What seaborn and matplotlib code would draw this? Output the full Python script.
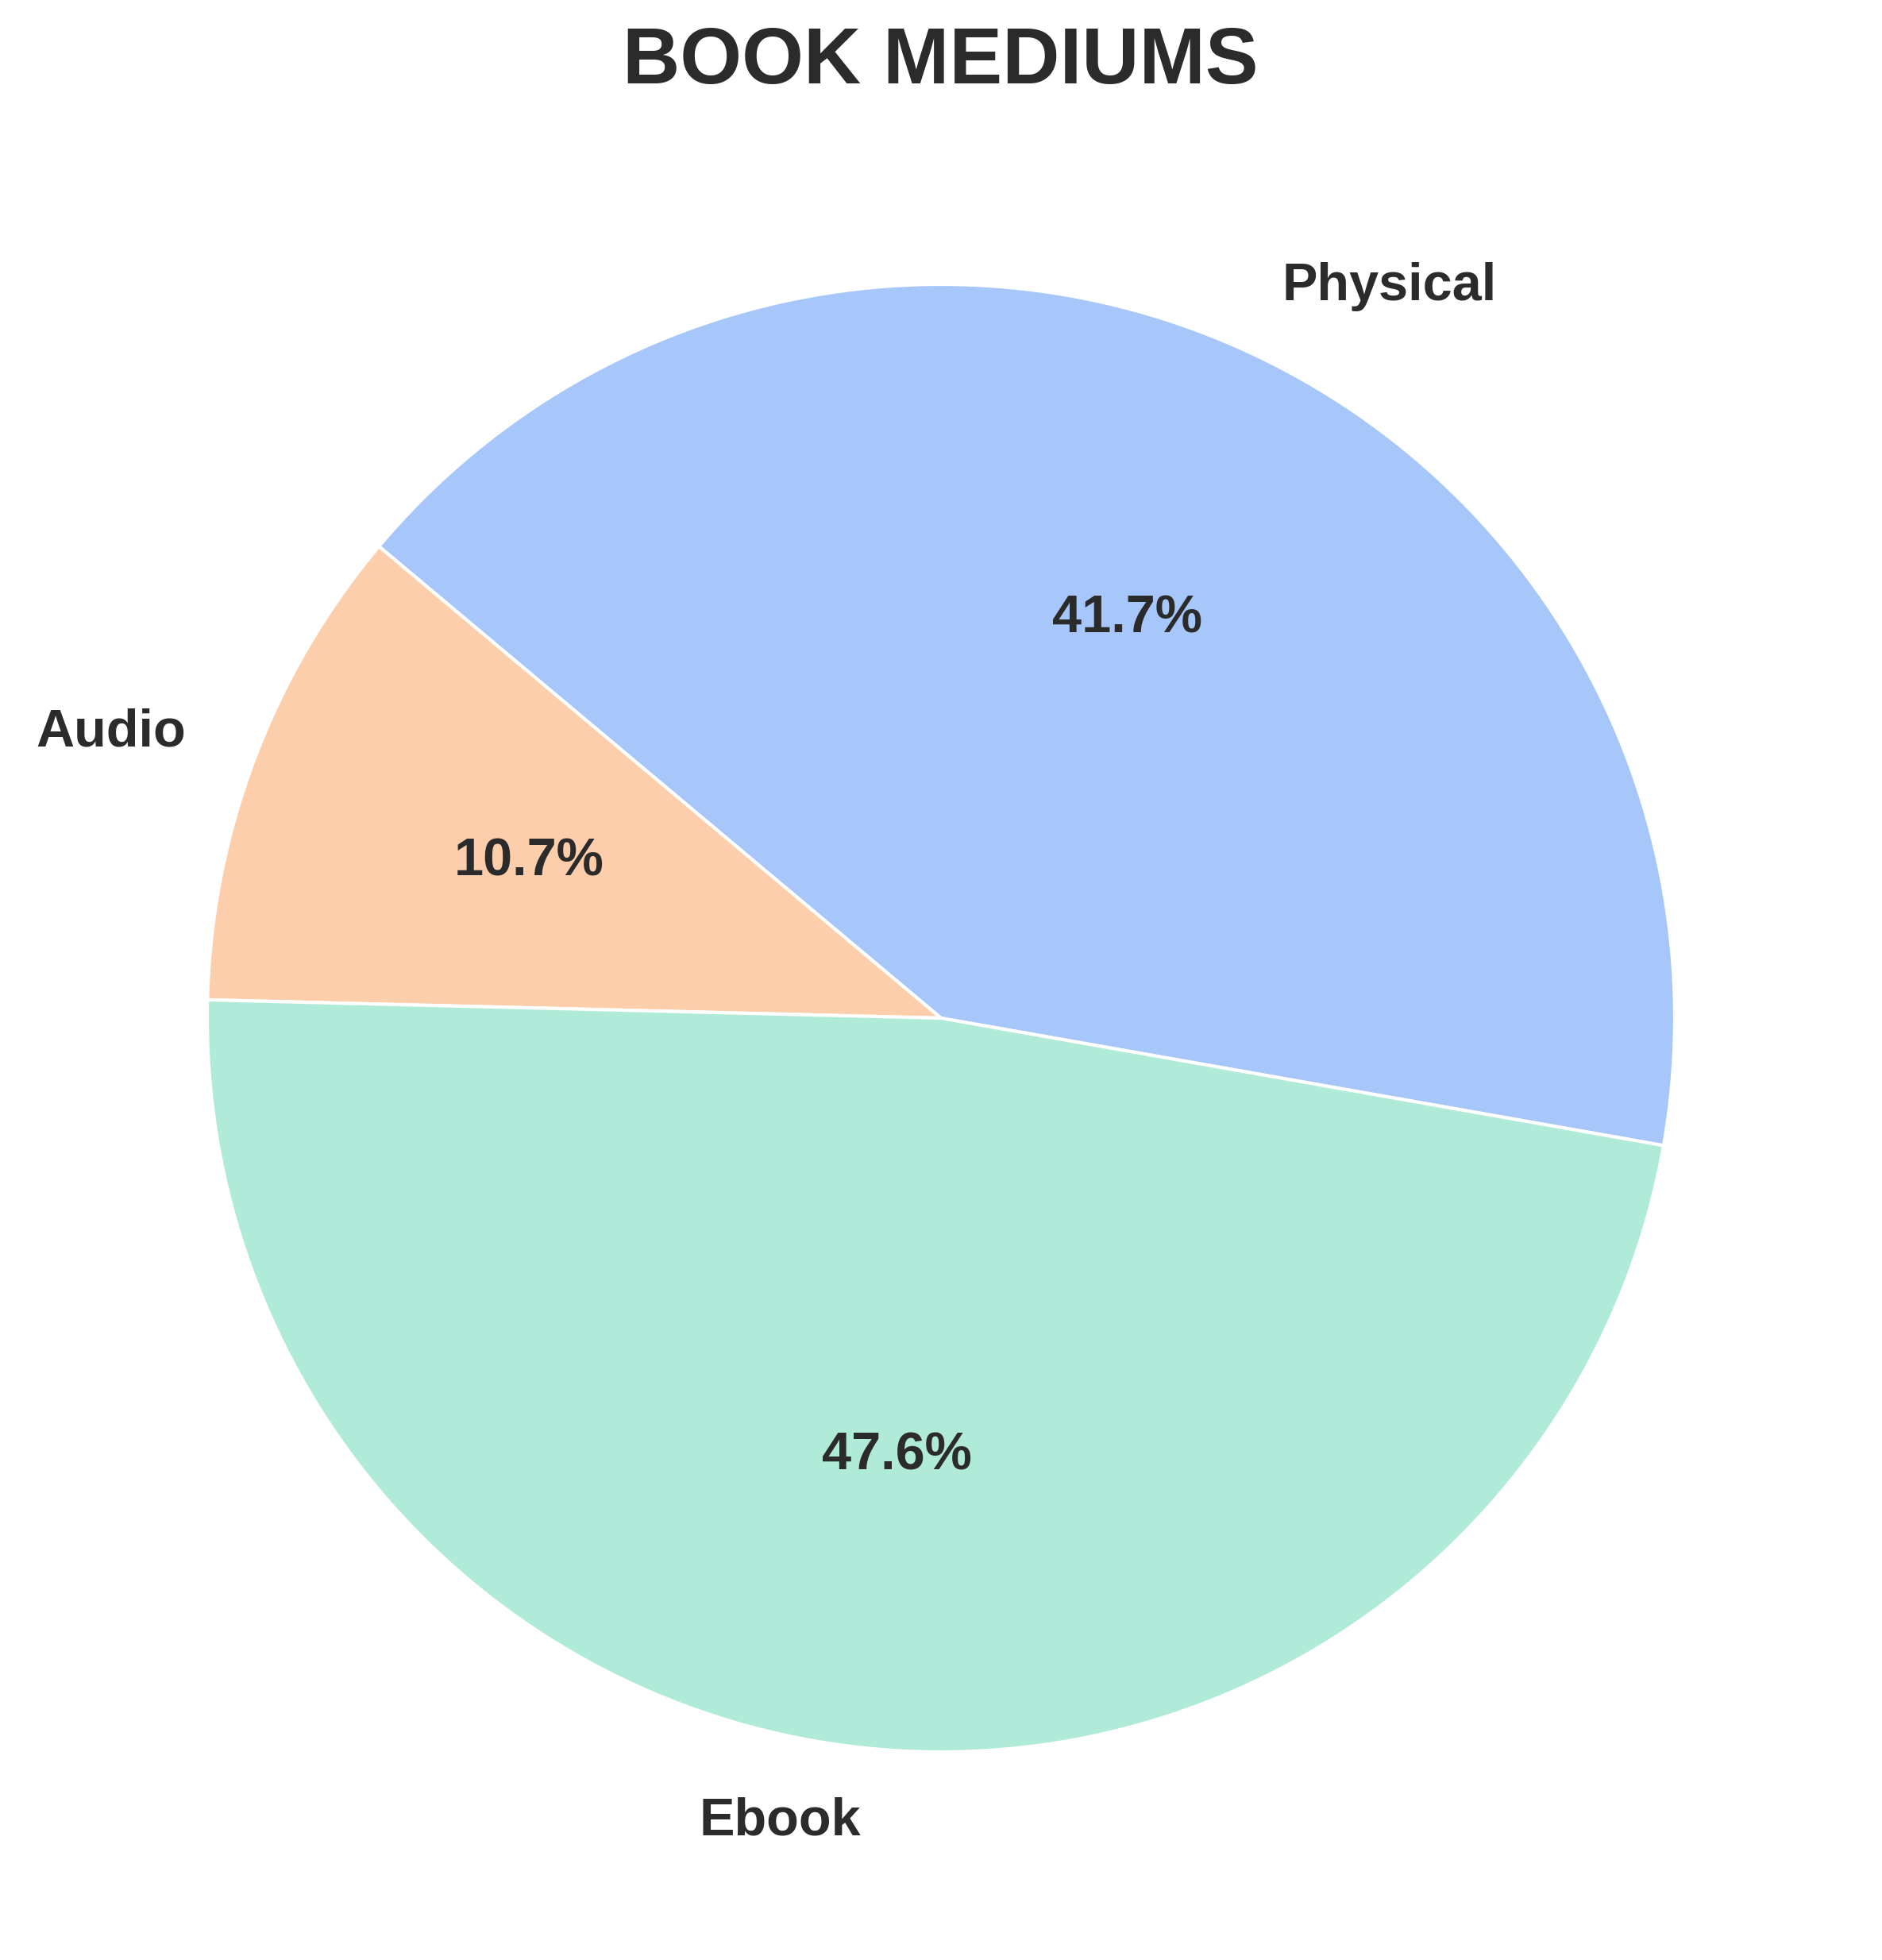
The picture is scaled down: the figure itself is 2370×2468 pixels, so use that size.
import matplotlib
matplotlib.use("Agg")
import matplotlib.pyplot as plt
import seaborn as sns

# Data
mediums = ["Physical", "Audio", "Ebook"]
counts = [35, 9, 40]
colors = ["#a7c7fa", "#fdceab", "#b0ead8"]
title = "BOOK MEDIUMS"

sns.set_theme(style="white")
plt.rcParams["font.family"] = ["Liberation Sans", "DejaVu Sans"]
text_color = "#2b2b2b"

W, H, DPI = 2370, 2468, 300
fig = plt.figure(figsize=(W / DPI, H / DPI), dpi=DPI)

R = 924.0       # pie radius in px
cx, cy = 1185.0, 1282.0  # center from top-left in px
ax = fig.add_axes([0, 0, 1, 1])
ax.axis("off")

wedges, texts, autotexts = ax.pie(
    counts,
    labels=mediums,
    colors=colors,
    startangle=-10,
    autopct="%1.1f%%",
    pctdistance=0.6,
    labeldistance=1.1,
    wedgeprops=dict(edgecolor="white", linewidth=1.0),
    textprops=dict(fontsize=16, fontweight="bold", color=text_color),
)
ax.set_aspect("auto")
ax.set_xlim(-cx / R, (W - cx) / R)
ax.set_ylim(-(H - cy) / R, cy / R)

fig.text(1184 / W, 1 - 105 / H, title, ha="center", va="baseline",
         fontsize=24, fontweight="bold", color=text_color)

fig.savefig("out.png", dpi=DPI, facecolor="white")
